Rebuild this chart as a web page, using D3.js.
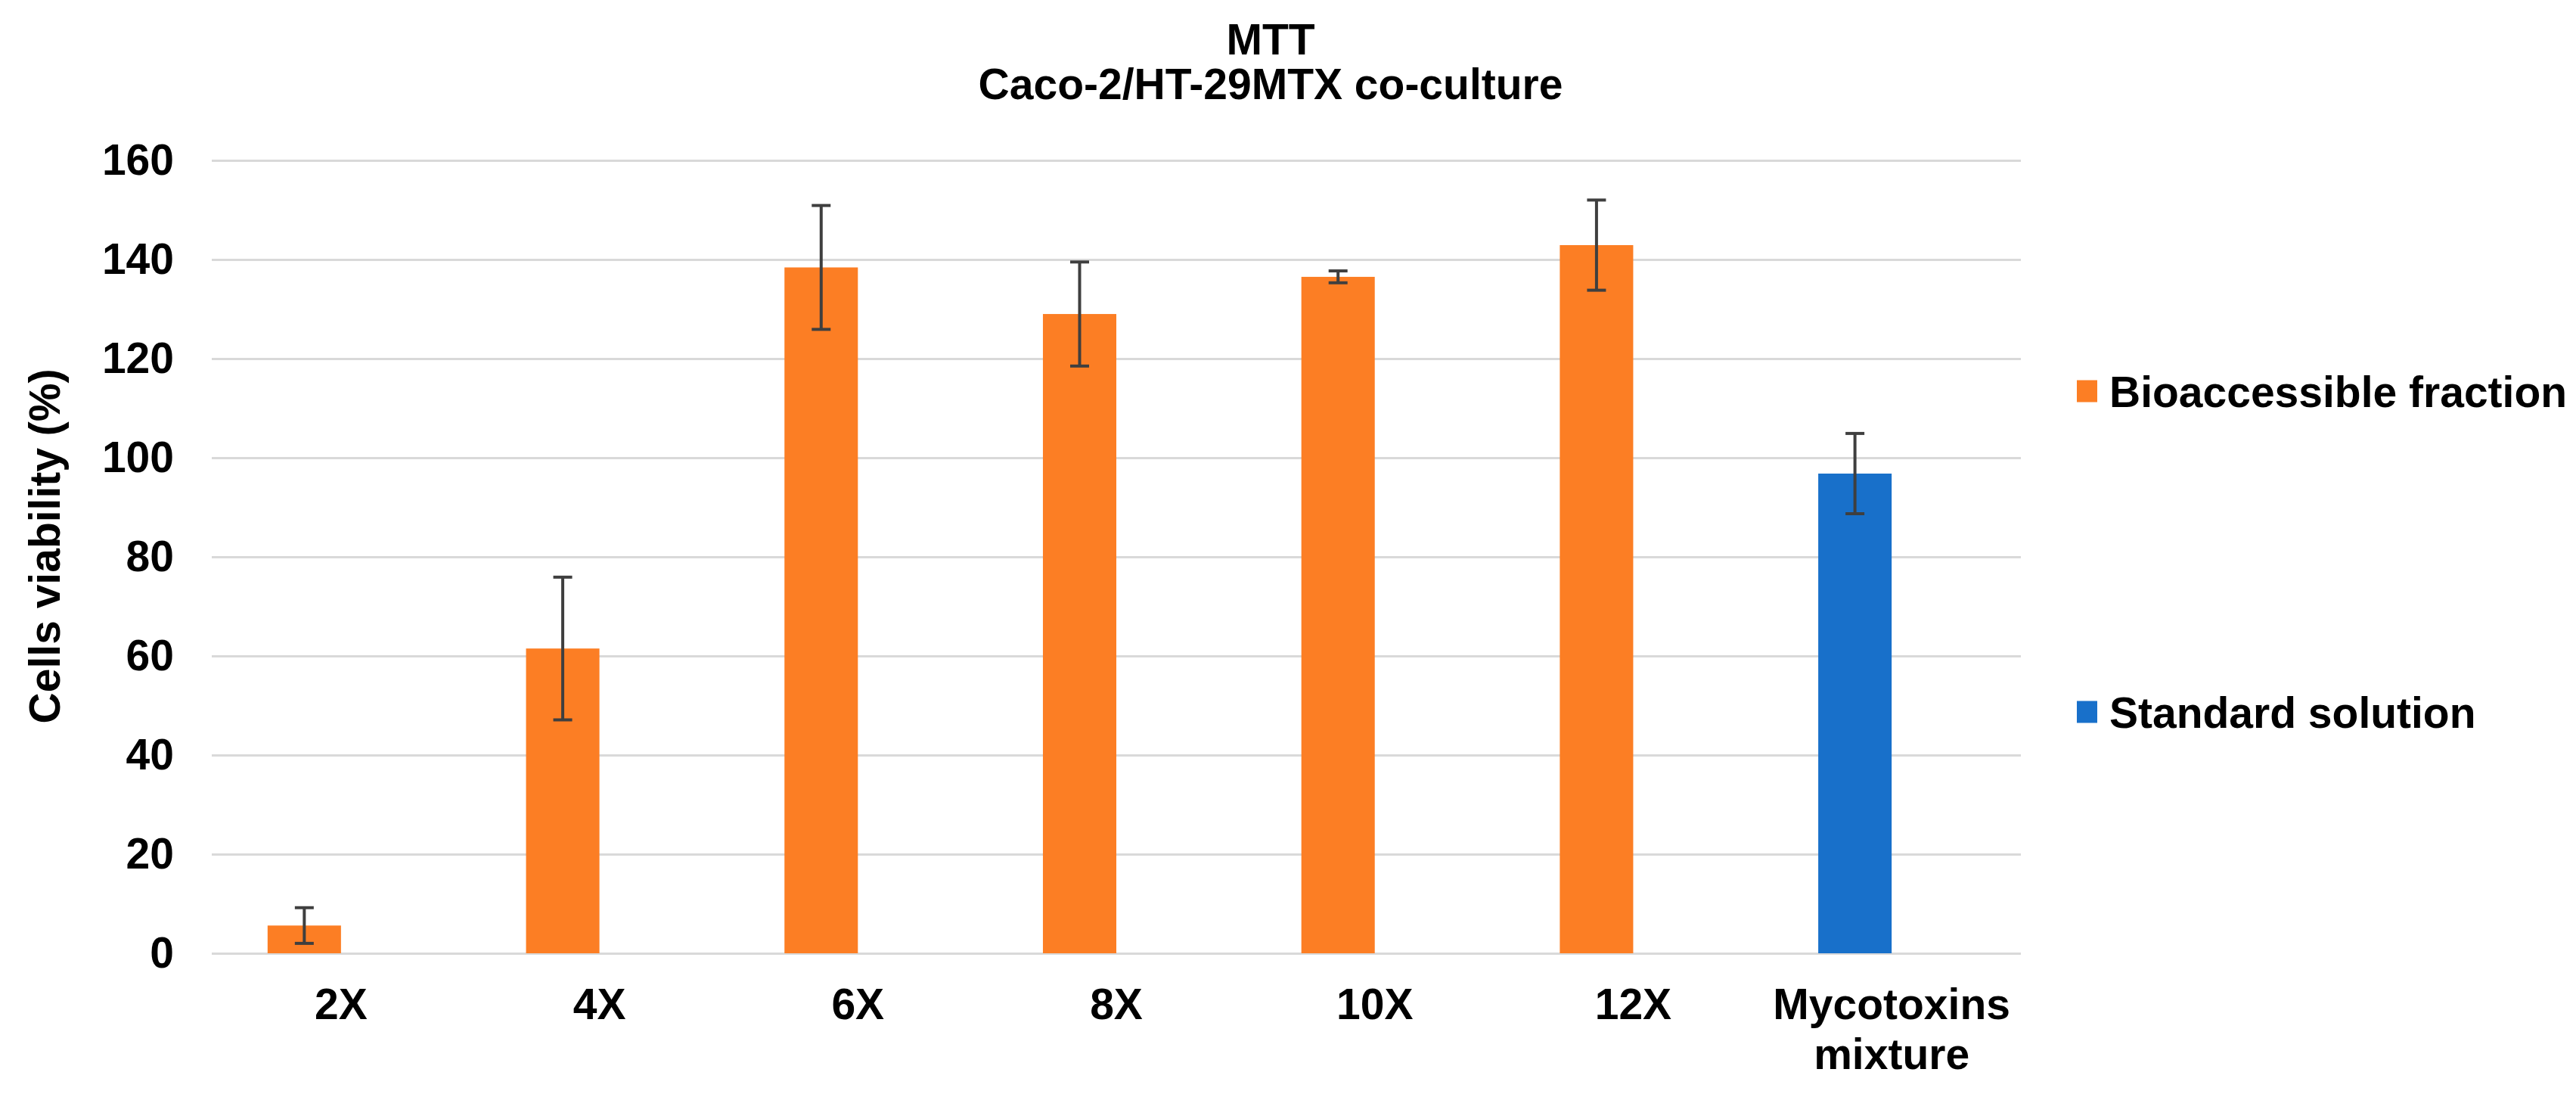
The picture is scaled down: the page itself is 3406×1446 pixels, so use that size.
<!DOCTYPE html>
<html>
<head>
<meta charset="utf-8">
<script src="https://cdn.jsdelivr.net/npm/d3@7"></script>
<style>
  html, body { margin: 0; padding: 0; background: #ffffff; }
  svg { display: block; }
  text { font-family: "Liberation Sans", Arial, sans-serif; font-weight: bold; fill: #000; }
</style>
</head>
<body>
<svg id="chart" width="3406" height="1446"></svg>
<script>
// ---- data ----
const categories = ["2X", "4X", "6X", "8X", "10X", "12X", "Mycotoxins mixture"];
const categoryLines = [["2X"], ["4X"], ["6X"], ["8X"], ["10X"], ["12X"], ["Mycotoxins", "mixture"]];
const viability = [5.6, 61.5, 138.4, 129.0, 136.5, 142.9, 96.8];
const errors = [3.6, 14.4, 12.5, 10.5, 1.2, 9.1, 8.1];
const seriesOf = ["Bioaccessible fraction", "Bioaccessible fraction", "Bioaccessible fraction",
                  "Bioaccessible fraction", "Bioaccessible fraction", "Bioaccessible fraction",
                  "Standard solution"];
const seriesNames = ["Bioaccessible fraction", "Standard solution"];
const seriesColors = ["#FC7E24", "#1870CA"];
const yTicks = [0, 20, 40, 60, 80, 100, 120, 140, 160];
const titleLines = ["MTT", "Caco-2/HT-29MTX co-culture"];
const yTitle = "Cells viability (%)";

// ---- layout ----
const svg = d3.select("#chart");
const FS = 57;
const plot = { left: 280, right: 2672, top: 212, bottom: 1260 };

const x = d3.scaleBand().domain(categories).range([plot.left, plot.right]).padding(0);
const y = d3.scaleLinear().domain([0, 160]).range([plot.bottom, plot.top]);
const color = d3.scaleOrdinal().domain(seriesNames).range(seriesColors);
const barW = x.bandwidth() * 0.284;

// title
svg.append("g").selectAll("text").data(titleLines).join("text")
  .attr("x", 1680)
  .attr("y", (d, i) => 72 + i * 59)
  .attr("text-anchor", "middle")
  .attr("font-size", FS)
  .text(d => d);

// gridlines + y tick labels
const yAxis = d3.axisLeft(y).tickValues(yTicks).tickSize(-(plot.right - plot.left)).tickPadding(50);
const gy = svg.append("g").attr("transform", `translate(${plot.left},0)`).call(yAxis);
gy.select(".domain").remove();
gy.selectAll(".tick line").attr("stroke", "#d9d9d9").attr("stroke-width", 3);
gy.selectAll(".tick text").attr("font-size", FS).attr("fill", "#000")
  .style("font-family", '"Liberation Sans", Arial, sans-serif').style("font-weight", "bold");

// y title
svg.append("text")
  .attr("transform", `translate(79,${(plot.top + plot.bottom) / 2 - 14}) rotate(-90)`)
  .attr("text-anchor", "middle")
  .attr("font-size", FS)
  .text(yTitle);

// bars
const data = categories.map((c, i) => ({ c, v: viability[i], e: errors[i], s: seriesOf[i], lines: categoryLines[i] }));
const cx = d => x(d.c) + x.bandwidth() / 2;

svg.append("g").selectAll("rect").data(data).join("rect")
  .attr("x", d => cx(d) - barW)
  .attr("y", d => y(d.v))
  .attr("width", barW)
  .attr("height", d => y(0) - y(d.v))
  .attr("fill", d => color(d.s));

// error bars
const eb = svg.append("g").attr("stroke", "#3f3f3f").attr("stroke-width", 4).attr("fill", "none");
const ecx = d => cx(d) - barW / 2;
eb.selectAll("line.v").data(data).join("line").attr("class", "v")
  .attr("x1", ecx).attr("x2", ecx)
  .attr("y1", d => y(d.v + d.e)).attr("y2", d => y(d.v - d.e));
eb.selectAll("line.t").data(data).join("line").attr("class", "t")
  .attr("x1", d => ecx(d) - 12.5).attr("x2", d => ecx(d) + 12.5)
  .attr("y1", d => y(d.v + d.e)).attr("y2", d => y(d.v + d.e));
eb.selectAll("line.b").data(data).join("line").attr("class", "b")
  .attr("x1", d => ecx(d) - 12.5).attr("x2", d => ecx(d) + 12.5)
  .attr("y1", d => y(d.v - d.e)).attr("y2", d => y(d.v - d.e));

// x labels
const xl = svg.append("g").selectAll("text").data(data).join("text")
  .attr("x", cx)
  .attr("y", 1347)
  .attr("text-anchor", "middle")
  .attr("font-size", FS);
xl.selectAll("tspan").data(d => d.lines.map(t => ({ t, x: cx(d) }))).join("tspan")
  .attr("x", d => d.x)
  .attr("dy", (d, i) => i === 0 ? 0 : 66)
  .text(d => d.t);

// legend
const legendY = [517, 941];
const lg = svg.append("g").selectAll("g").data(seriesNames).join("g")
  .attr("transform", (d, i) => `translate(2746,${legendY[i]})`);
lg.append("rect").attr("x", 0).attr("y", -14.5).attr("width", 27).attr("height", 29).attr("fill", d => color(d));
lg.append("text").attr("x", 43).attr("y", 20.5).attr("font-size", FS).text(d => d);
</script>
</body>
</html>
